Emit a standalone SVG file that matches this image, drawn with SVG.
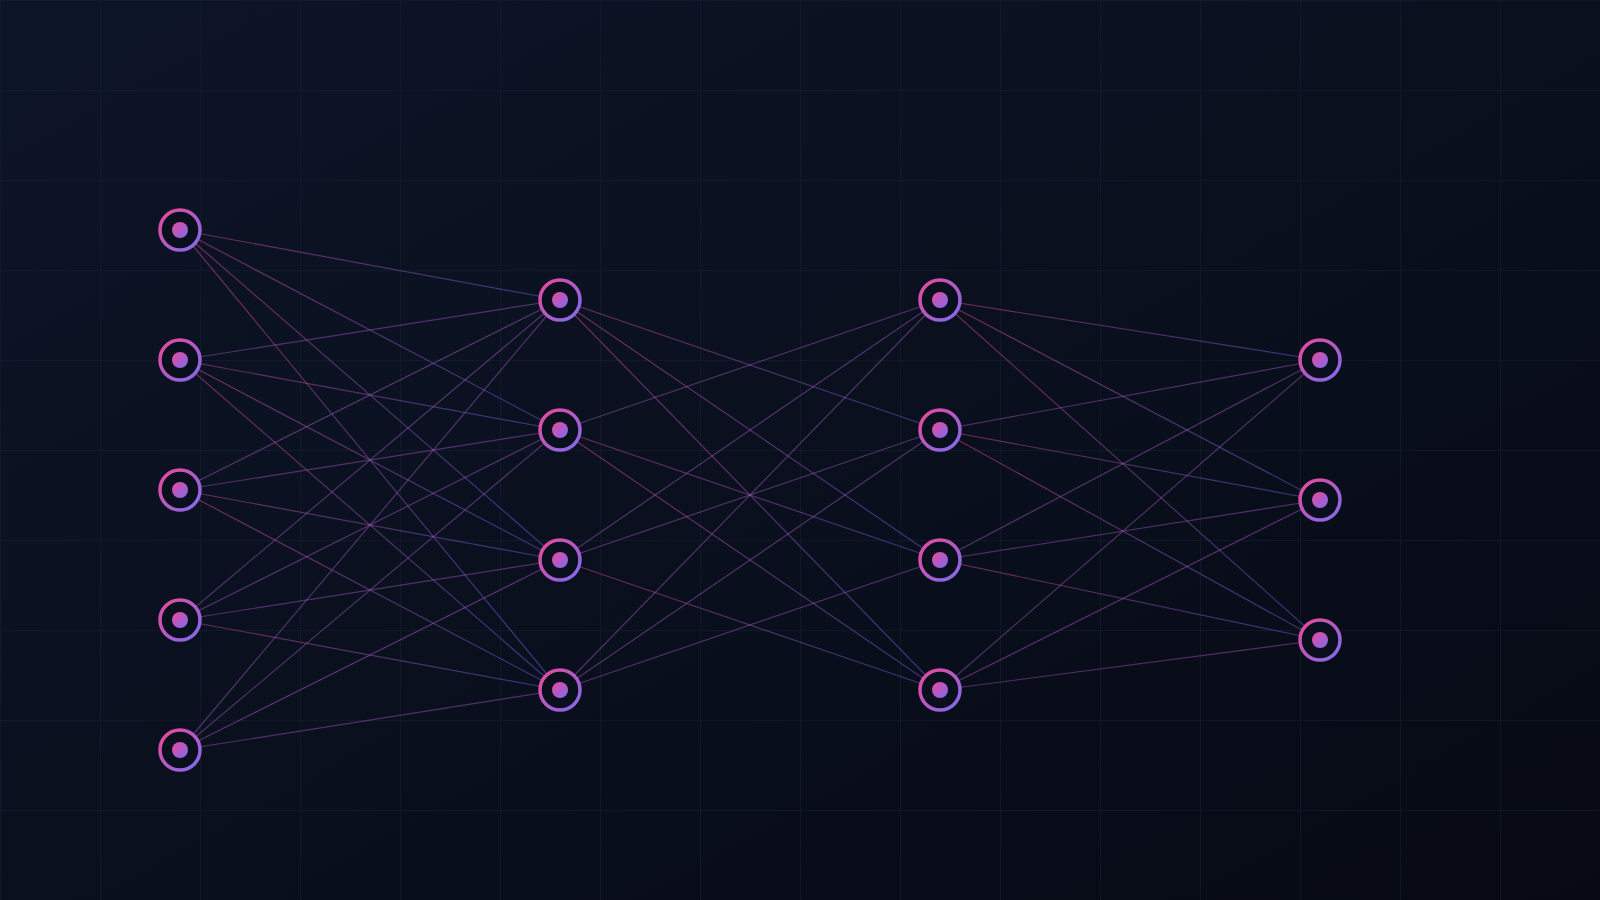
<svg xmlns="http://www.w3.org/2000/svg" width="1600" height="900" viewBox="0 0 1600 900">
<defs>
<linearGradient id="bg" x1="0" y1="0" x2="1" y2="1">
<stop offset="0" stop-color="#0c1527"/>
<stop offset="1" stop-color="#070a14"/>
</linearGradient>
<linearGradient id="edge" x1="0" y1="0" x2="1" y2="1">
<stop offset="0" stop-color="#ec4899"/>
<stop offset="1" stop-color="#6366f1"/>
</linearGradient>
<linearGradient id="node" x1="0" y1="0" x2="1" y2="1">
<stop offset="0" stop-color="#ec4899"/>
<stop offset="1" stop-color="#7c6cf0"/>
</linearGradient>
<pattern id="grid" width="100" height="90" patternUnits="userSpaceOnUse">
<path d="M0 0H100M0 0V90" fill="none" stroke="#1a2336" stroke-opacity="0.55" stroke-width="1.5"/>
</pattern>
</defs>
<style>
.e{stroke:url(#edge);stroke-width:1.2;stroke-opacity:0.45;fill:none}
.ring{fill:#0a0f1e;stroke:url(#node);stroke-width:3.5}
.dot{fill:url(#node)}
</style>
<rect width="1600" height="900" fill="url(#bg)"/>
<rect width="1600" height="900" fill="url(#grid)"/>
<g id="connectors">
<line class="e" x1="180" y1="230" x2="560" y2="300"/>
<line class="e" x1="180" y1="230" x2="560" y2="430"/>
<line class="e" x1="180" y1="230" x2="560" y2="560"/>
<line class="e" x1="180" y1="230" x2="560" y2="690"/>
<line class="e" x1="180" y1="360" x2="560" y2="300"/>
<line class="e" x1="180" y1="360" x2="560" y2="430"/>
<line class="e" x1="180" y1="360" x2="560" y2="560"/>
<line class="e" x1="180" y1="360" x2="560" y2="690"/>
<line class="e" x1="180" y1="490" x2="560" y2="300"/>
<line class="e" x1="180" y1="490" x2="560" y2="430"/>
<line class="e" x1="180" y1="490" x2="560" y2="560"/>
<line class="e" x1="180" y1="490" x2="560" y2="690"/>
<line class="e" x1="180" y1="620" x2="560" y2="300"/>
<line class="e" x1="180" y1="620" x2="560" y2="430"/>
<line class="e" x1="180" y1="620" x2="560" y2="560"/>
<line class="e" x1="180" y1="620" x2="560" y2="690"/>
<line class="e" x1="180" y1="750" x2="560" y2="300"/>
<line class="e" x1="180" y1="750" x2="560" y2="430"/>
<line class="e" x1="180" y1="750" x2="560" y2="560"/>
<line class="e" x1="180" y1="750" x2="560" y2="690"/>
<line class="e" x1="560" y1="300" x2="940" y2="430"/>
<line class="e" x1="560" y1="300" x2="940" y2="560"/>
<line class="e" x1="560" y1="300" x2="940" y2="690"/>
<line class="e" x1="560" y1="430" x2="940" y2="300"/>
<line class="e" x1="560" y1="430" x2="940" y2="560"/>
<line class="e" x1="560" y1="430" x2="940" y2="690"/>
<line class="e" x1="560" y1="560" x2="940" y2="300"/>
<line class="e" x1="560" y1="560" x2="940" y2="430"/>
<line class="e" x1="560" y1="560" x2="940" y2="690"/>
<line class="e" x1="560" y1="690" x2="940" y2="300"/>
<line class="e" x1="560" y1="690" x2="940" y2="430"/>
<line class="e" x1="560" y1="690" x2="940" y2="560"/>
<line class="e" x1="940" y1="300" x2="1320" y2="360"/>
<line class="e" x1="940" y1="300" x2="1320" y2="500"/>
<line class="e" x1="940" y1="300" x2="1320" y2="640"/>
<line class="e" x1="940" y1="430" x2="1320" y2="360"/>
<line class="e" x1="940" y1="430" x2="1320" y2="500"/>
<line class="e" x1="940" y1="430" x2="1320" y2="640"/>
<line class="e" x1="940" y1="560" x2="1320" y2="360"/>
<line class="e" x1="940" y1="560" x2="1320" y2="500"/>
<line class="e" x1="940" y1="560" x2="1320" y2="640"/>
<line class="e" x1="940" y1="690" x2="1320" y2="360"/>
<line class="e" x1="940" y1="690" x2="1320" y2="500"/>
<line class="e" x1="940" y1="690" x2="1320" y2="640"/>
</g>
<g id="n1-1"><circle class="ring" cx="180" cy="230" r="20"/><circle class="dot" cx="180" cy="230" r="8"/></g>
<g id="n1-2"><circle class="ring" cx="180" cy="360" r="20"/><circle class="dot" cx="180" cy="360" r="8"/></g>
<g id="n1-3"><circle class="ring" cx="180" cy="490" r="20"/><circle class="dot" cx="180" cy="490" r="8"/></g>
<g id="n1-4"><circle class="ring" cx="180" cy="620" r="20"/><circle class="dot" cx="180" cy="620" r="8"/></g>
<g id="n1-5"><circle class="ring" cx="180" cy="750" r="20"/><circle class="dot" cx="180" cy="750" r="8"/></g>
<g id="n2-1"><circle class="ring" cx="560" cy="300" r="20"/><circle class="dot" cx="560" cy="300" r="8"/></g>
<g id="n2-2"><circle class="ring" cx="560" cy="430" r="20"/><circle class="dot" cx="560" cy="430" r="8"/></g>
<g id="n2-3"><circle class="ring" cx="560" cy="560" r="20"/><circle class="dot" cx="560" cy="560" r="8"/></g>
<g id="n2-4"><circle class="ring" cx="560" cy="690" r="20"/><circle class="dot" cx="560" cy="690" r="8"/></g>
<g id="n3-1"><circle class="ring" cx="940" cy="300" r="20"/><circle class="dot" cx="940" cy="300" r="8"/></g>
<g id="n3-2"><circle class="ring" cx="940" cy="430" r="20"/><circle class="dot" cx="940" cy="430" r="8"/></g>
<g id="n3-3"><circle class="ring" cx="940" cy="560" r="20"/><circle class="dot" cx="940" cy="560" r="8"/></g>
<g id="n3-4"><circle class="ring" cx="940" cy="690" r="20"/><circle class="dot" cx="940" cy="690" r="8"/></g>
<g id="n4-1"><circle class="ring" cx="1320" cy="360" r="20"/><circle class="dot" cx="1320" cy="360" r="8"/></g>
<g id="n4-2"><circle class="ring" cx="1320" cy="500" r="20"/><circle class="dot" cx="1320" cy="500" r="8"/></g>
<g id="n4-3"><circle class="ring" cx="1320" cy="640" r="20"/><circle class="dot" cx="1320" cy="640" r="8"/></g>
</svg>
